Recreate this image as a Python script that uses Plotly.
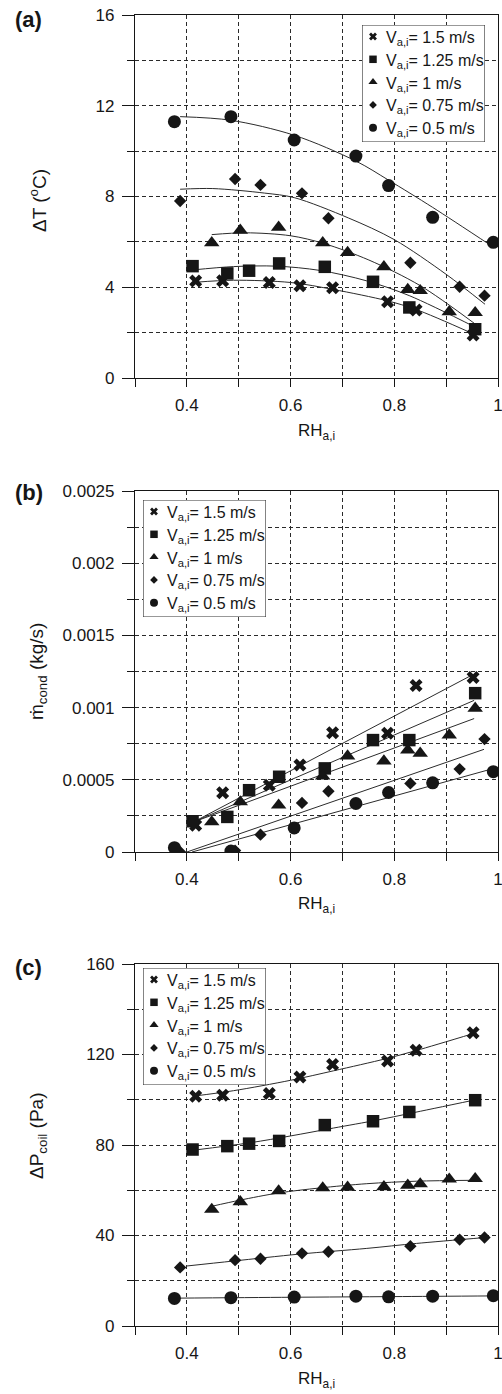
import plotly.graph_objects as go

# ---------------- data ----------------
speed_labels = ["1.5", "1.25", "1", "0.75", "0.5"]
symbols = ["x", "square", "triangle-up", "diamond", "circle"]

# relative humidity of the test points, one list per air velocity
rh_15 = [0.417, 0.469, 0.559, 0.618, 0.681, 0.787, 0.842, 0.952]
rh_125 = [0.411, 0.478, 0.520, 0.578, 0.666, 0.759, 0.829, 0.956]
rh_1 = [0.448, 0.503, 0.577, 0.662, 0.710, 0.780, 0.826, 0.850, 0.906, 0.956]
rh_075 = [0.387, 0.493, 0.542, 0.622, 0.673, 0.831, 0.926, 0.974]
rh_05 = [0.376, 0.485, 0.607, 0.726, 0.789, 0.874, 0.991]

# (a) temperature drop, degC
dT_15 = [4.27, 4.29, 4.21, 4.07, 3.98, 3.36, 3.00, 1.90]
dT_125 = [4.93, 4.61, 4.73, 5.05, 4.90, 4.24, 3.11, 2.15]
dT_1 = [5.96, 6.51, 6.64, 5.96, 5.53, 4.90, 3.90, 3.85, 2.92, 2.88]
dT_075 = [7.80, 8.77, 8.51, 8.14, 7.04, 5.08, 4.02, 3.63]
dT_05 = [11.30, 11.52, 10.49, 9.78, 8.48, 7.08, 5.98]

# (b) condensate mass flow, kg/s
mc_15 = [0.000185, 0.000410, 0.000463, 0.000602, 0.000826, 0.000822, 0.001153, 0.001208]
mc_125 = [0.000213, 0.000243, 0.000428, 0.000521, 0.000579, 0.000775, 0.000775, 0.001100]
mc_1 = [0.000208, 0.000347, 0.000324, 0.000525, 0.000664, 0.000630, 0.000706, 0.000683, 0.000810, 0.000995]
mc_075 = [0.000000, 0.000010, 0.000120, 0.000340, 0.000421, 0.000475, 0.000574, 0.000782]
mc_05 = [0.000030, 0.000007, 0.000167, 0.000336, 0.000412, 0.000479, 0.000556]

# (c) coil pressure drop, Pa
dp_15 = [101.6, 102.0, 102.8, 110.1, 115.6, 117.1, 121.9, 129.6]
dp_125 = [78.0, 79.5, 80.6, 81.8, 88.8, 90.5, 94.6, 99.8]
dp_1 = [51.5, 54.9, 59.7, 61.0, 61.3, 61.5, 62.2, 62.8, 64.9, 65.1]
dp_075 = [25.9, 29.1, 29.7, 32.1, 32.8, 35.3, 38.2, 39.1]
dp_05 = [12.2, 12.5, 12.8, 13.2, 12.9, 13.2, 13.4]

# fitted trend curves
fa_15_x = [0.416, 0.490, 0.600, 0.683, 0.787, 0.842, 0.950]
fa_15_y = [4.22, 4.31, 4.21, 3.90, 3.40, 3.02, 1.97]
fa_125_x = [0.410, 0.490, 0.573, 0.657, 0.747, 0.830, 0.957]
fa_125_y = [4.76, 4.91, 4.93, 4.74, 4.28, 3.62, 2.23]
fa_1_x = [0.448, 0.513, 0.600, 0.664, 0.751, 0.850, 0.956]
fa_1_y = [6.32, 6.40, 6.27, 5.93, 5.20, 4.07, 2.38]
fa_075_x = [0.387, 0.450, 0.550, 0.607, 0.712, 0.800, 0.900, 0.975]
fa_075_y = [8.32, 8.35, 8.15, 7.95, 7.05, 6.10, 4.57, 3.25]
fa_05_x = [0.387, 0.485, 0.607, 0.727, 0.789, 0.874, 0.985]
fa_05_y = [11.52, 11.36, 10.70, 9.55, 8.72, 7.52, 5.86]

fb_15_x = [0.413, 0.947]
fb_15_y = [0.000208, 0.001220]
fb_125_x = [0.413, 0.954]
fb_125_y = [0.000208, 0.001050]
fb_1_x = [0.413, 0.954]
fb_1_y = [0.000208, 0.000924]
fb_075_x = [0.400, 0.973]
fb_075_y = [0.000000, 0.000711]
fb_05_x = [0.410, 0.992]
fb_05_y = [0.000000, 0.000579]

fc_15_x = [0.413, 0.490, 0.600, 0.683, 0.785, 0.843, 0.953]
fc_15_y = [101.6, 104.0, 108.6, 112.8, 118.2, 121.8, 129.3]
fc_125_x = [0.413, 0.522, 0.600, 0.683, 0.767, 0.831, 0.953]
fc_125_y = [77.7, 81.0, 84.0, 87.5, 91.0, 94.0, 99.8]
fc_1_x = [0.448, 0.502, 0.577, 0.656, 0.747, 0.843, 0.956]
fc_1_y = [52.9, 55.6, 58.8, 61.0, 62.9, 64.0, 64.4]
fc_075_x = [0.399, 0.489, 0.618, 0.747, 0.843, 0.975]
fc_075_y = [26.5, 28.7, 31.8, 34.3, 36.5, 39.1]
fc_05_x = [0.376, 0.600, 0.800, 0.992]
fc_05_y = [12.3, 12.7, 13.0, 13.3]

# ticks
x_major = [0.4, 0.6, 0.8, 1.0]
x_major_text = ["0.4", "0.6", "0.8", "1"]
x_minor = [0.3, 0.5, 0.7, 0.9]
ya_major = [0, 4, 8, 12, 16]
ya_minor = [2, 6, 10, 14]
yb_major = [0, 0.0005, 0.001, 0.0015, 0.002, 0.0025]
yb_major_text = ["0", "0.0005", "0.001", "0.0015", "0.002", "0.0025"]
yb_minor = [0.00025, 0.00075, 0.00125, 0.00175, 0.00225]
yc_major = [0, 40, 80, 120, 160]
yc_minor = [20, 60, 100, 140]

# ---------------- styling / layout ----------------
FONT = "Liberation Sans, Arial, Helvetica, sans-serif"
INK = "#161616"
GRID = "#2a2a2a"
W, H = 502, 1394
PX_L, PX_R = 135, 498

rh_sets = [rh_15, rh_125, rh_1, rh_075, rh_05]
panels = [
    dict(label="(a)", top=15, bottom=378, ys=[dT_15, dT_125, dT_1, dT_075, dT_05],
         fits=[(fa_15_x, fa_15_y), (fa_125_x, fa_125_y), (fa_1_x, fa_1_y),
               (fa_075_x, fa_075_y), (fa_05_x, fa_05_y)],
         yrange=[0, 16], ymaj=ya_major, ymajt=[str(v) for v in ya_major], ymin=ya_minor,
         ytitle="\u0394T (<sup>o</sup>C)", ytitle_y=201, label_y=19, xtitle_y=432,
         leg=(362, 25), spline=True),
    dict(label="(b)", top=491, bottom=852, ys=[mc_15, mc_125, mc_1, mc_075, mc_05],
         fits=[(fb_15_x, fb_15_y), (fb_125_x, fb_125_y), (fb_1_x, fb_1_y),
               (fb_075_x, fb_075_y), (fb_05_x, fb_05_y)],
         yrange=[0, 0.0025], ymaj=yb_major, ymajt=yb_major_text, ymin=yb_minor,
         ytitle="\u1e41<sub>cond</sub> (kg/s)", ytitle_y=672, label_y=492, xtitle_y=905,
         leg=(143, 500), spline=False),
    dict(label="(c)", top=964, bottom=1326, ys=[dp_15, dp_125, dp_1, dp_075, dp_05],
         fits=[(fc_15_x, fc_15_y), (fc_125_x, fc_125_y), (fc_1_x, fc_1_y),
               (fc_075_x, fc_075_y), (fc_05_x, fc_05_y)],
         yrange=[0, 160], ymaj=yc_major, ymajt=[str(v) for v in yc_major], ymin=yc_minor,
         ytitle="\u0394P<sub>coil</sub> (Pa)", ytitle_y=1136, label_y=967, xtitle_y=1380,
         leg=(143, 968), spline=True),
]

marker_size = {"x": 11.5, "square": 12.5, "triangle-up": 13.5, "diamond": 9.5, "circle": 13}
legend_size = {"x": 7, "square": 7.5, "triangle-up": 8, "diamond": 6, "circle": 8}
LEG_W, LEG_H = 123, 117
LEG_ROW0, LEG_STEP = 11.5, 22.8
LEG_SYM_X, LEG_TXT_X = 11, 21.5


def pyf(v):
    return 1 - v / H


def aname(k, letter):
    return f"{letter}axis" + ("" if k == 1 else str(k))


def aref(k, letter):
    return letter + ("" if k == 1 else str(k))


grid_style = dict(showgrid=True, gridcolor=GRID, gridwidth=1, griddash="4px,3px")
common = dict(showline=True, linecolor=INK, linewidth=1.2, mirror=True,
              ticks="outside", tickcolor=INK, tickwidth=1.2, zeroline=False,
              automargin=False, fixedrange=True, ticklabeloverflow="allow",
              tickfont=dict(family=FONT, size=17, color=INK), **grid_style)

fig = go.Figure()
layout = {}
annotations = []
shapes = []

for i, p in enumerate(panels):
    k = i + 1
    xr, yr = aref(k, "x"), aref(k, "y")
    layout[aname(k, "x")] = dict(
        domain=[PX_L / W, PX_R / W], range=[0.3, 1.0], anchor=yr,
        tickmode="array", tickvals=x_major, ticktext=x_major_text, ticklen=8,
        ticklabelstandoff=3,
        minor=dict(tickmode="array", tickvals=x_minor, ticks="outside", ticklen=8,
                   tickcolor=INK, tickwidth=1.2, **grid_style),
        **common)
    layout[aname(k, "y")] = dict(
        domain=[pyf(p["bottom"]), pyf(p["top"])], range=p["yrange"], anchor=xr,
        tickmode="array", tickvals=p["ymaj"], ticktext=p["ymajt"], ticklen=12,
        ticklabelstandoff=4,
        minor=dict(tickmode="array", tickvals=p["ymin"], ticks="outside", ticklen=7,
                   tickcolor=INK, tickwidth=1.2, **grid_style),
        **common)

    # fitted curves
    for (fx, fy) in p["fits"]:
        fig.add_trace(go.Scatter(
            x=fx, y=fy, mode="lines", xaxis=xr, yaxis=yr, showlegend=False,
            hoverinfo="skip",
            line=dict(color="#2b2b2b", width=1,
                      shape="spline" if p["spline"] else "linear", smoothing=0.9)))
    # measured points
    for s, sym, rh, yv in zip(speed_labels, symbols, rh_sets, p["ys"]):
        fig.add_trace(go.Scatter(
            x=rh, y=yv, mode="markers", xaxis=xr, yaxis=yr, showlegend=False,
            name=f"V = {s} m/s",
            marker=dict(symbol=sym, size=marker_size[sym], color=INK,
                        line=dict(width=0))))

    # legend box as a small overlay subplot (box-local pixel units)
    kl = k + 3
    lx, ly = p["leg"]
    lxr, lyr = aref(kl, "x"), aref(kl, "y")
    layout[aname(kl, "x")] = dict(domain=[lx / W, (lx + LEG_W) / W], range=[0, LEG_W],
                                  visible=False, fixedrange=True, anchor=lyr)
    layout[aname(kl, "y")] = dict(domain=[pyf(ly + LEG_H), pyf(ly)], range=[LEG_H, 0],
                                  visible=False, fixedrange=True, anchor=lxr)
    shapes.append(dict(type="rect", xref=lxr, yref=lyr, x0=0, x1=LEG_W, y0=0, y1=LEG_H,
                       layer="below", fillcolor="white",
                       line=dict(color="#333333", width=1.2)))
    rows = [LEG_ROW0 + j * LEG_STEP for j in range(len(speed_labels))]
    for j, (s, sym) in enumerate(zip(speed_labels, symbols)):
        fig.add_trace(go.Scatter(
            x=[LEG_SYM_X], y=[rows[j]], mode="markers", xaxis=lxr, yaxis=lyr,
            showlegend=False, hoverinfo="skip",
            marker=dict(symbol=sym, size=legend_size[sym], color=INK, line=dict(width=0))))
        annotations.append(dict(
            xref=lxr, yref=lyr, x=LEG_TXT_X, y=rows[j], xanchor="left", yanchor="middle",
            yshift=-2, showarrow=False, text=f"V<sub>a,i</sub>= {s} m/s",
            font=dict(family=FONT, size=16, color=INK)))

    # panel label
    annotations.append(dict(xref="paper", yref="paper", x=13 / W, y=pyf(p["label_y"]),
                            xanchor="left", yanchor="middle", showarrow=False,
                            text=f"<b>{p['label']}</b>",
                            font=dict(family=FONT, size=22, color=INK)))
    # y title
    annotations.append(dict(xref="paper", yref="paper", x=38 / W, y=pyf(p["ytitle_y"]),
                            xanchor="center", yanchor="middle", textangle=-90,
                            showarrow=False, text=p["ytitle"],
                            font=dict(family=FONT, size=19, color=INK)))
    # x title
    annotations.append(dict(xref="paper", yref="paper", x=(PX_L + PX_R) / 2 / W,
                            y=pyf(p["xtitle_y"]), xanchor="center", yanchor="middle",
                            showarrow=False, text="RH<sub>a,i</sub>",
                            font=dict(family=FONT, size=17, color=INK)))

fig.update_layout(
    width=W, height=H, template="none",
    margin=dict(l=0, r=0, t=0, b=0, pad=0),
    paper_bgcolor="white", plot_bgcolor="white",
    showlegend=False, font=dict(family=FONT, color=INK),
    annotations=annotations, shapes=shapes, **layout)

fig.write_html("out.html", config={"displayModeBar": False})
